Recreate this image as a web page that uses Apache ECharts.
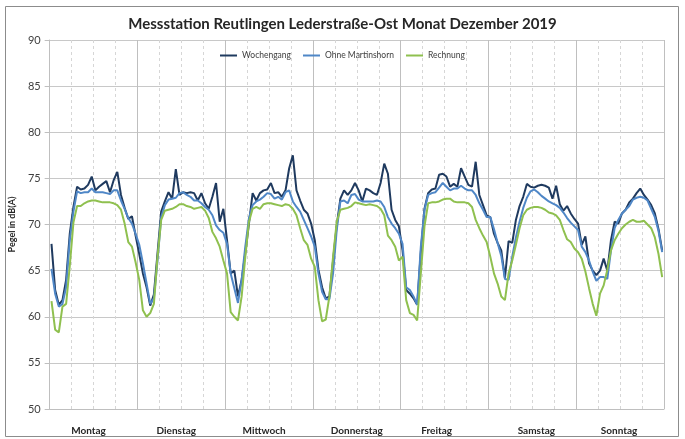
<!DOCTYPE html>
<html>
<head>
<meta charset="utf-8">
<script src="https://cdn.jsdelivr.net/npm/echarts@6/dist/echarts.min.js"></script>
<style>
  html, body { margin: 0; padding: 0; background: #ffffff; }
  #chart { width: 685px; height: 439px; }
</style>
</head>
<body>
<div id="chart"></div>
<script>
// Wochentage (je 24 Stundenwerte)
const days = ['Montag', 'Dienstag', 'Mittwoch', 'Donnerstag', 'Freitag', 'Samstag', 'Sonntag'];

// Stündliche Mittelungspegel in dB(A), Montag 0 Uhr bis Sonntag 23 Uhr
const wochengang = [
  67.9, 62.9, 61.3, 61.8, 64.0, 69.0, 71.9, 74.1, 73.8, 73.9, 74.3, 75.2, 73.7, 74.1, 74.4, 74.7, 73.5, 74.8, 75.7, 73.2, 71.8, 70.6, 70.9, 68.8,
  66.8, 64.7, 63.2, 61.2, 62.4, 66.9, 71.4, 72.5, 73.5, 72.8, 76.0, 73.2, 73.5, 73.4, 73.5, 73.4, 72.6, 73.4, 72.3, 71.7, 73.0, 74.5, 70.3, 71.7,
  68.3, 64.7, 65.0, 62.2, 64.0, 66.9, 70.1, 73.4, 72.6, 73.4, 73.7, 73.8, 74.5, 73.4, 73.5, 73.0, 73.7, 76.1, 77.5, 73.7, 72.6, 71.6, 71.2, 70.1,
  68.3, 65.1, 63.2, 62.0, 62.2, 66.1, 69.9, 72.8, 73.7, 73.2, 73.7, 74.5, 73.7, 72.5, 73.9, 73.7, 73.4, 73.2, 74.5, 76.6, 75.5, 71.6, 70.5, 69.8,
  67.2, 62.9, 62.5, 62.0, 61.3, 67.0, 71.7, 73.4, 73.8, 73.9, 75.4, 75.5, 75.2, 74.1, 74.4, 74.1, 76.1, 75.2, 74.3, 74.1, 76.8, 73.2, 72.1, 71.0,
  70.8, 69.0, 68.0, 67.2, 64.2, 68.2, 68.0, 70.5, 72.0, 73.0, 74.4, 74.1, 74.0, 74.2, 74.3, 74.2, 74.0, 72.8, 74.2, 72.2, 71.5, 72.0, 71.2, 70.6,
  70.1, 67.8, 68.7, 65.8, 65.0, 64.5, 65.0, 66.3, 65.0, 68.3, 70.3, 70.1, 71.2, 71.6, 72.4, 72.8, 73.4, 73.9, 73.2, 72.7, 72.1, 71.2, 69.5, 67.2
];

const ohneMartinshorn = [
  65.2, 62.5, 61.1, 61.4, 63.2, 68.3, 71.4, 73.6, 73.4, 73.5, 73.5, 73.9, 73.5, 73.5, 73.5, 73.4, 73.3, 73.7, 73.7, 72.6, 71.7, 70.7, 70.1, 69.0,
  67.8, 65.8, 63.6, 61.4, 62.0, 66.1, 70.8, 72.1, 72.7, 72.8, 72.9, 73.4, 73.5, 73.2, 73.0, 72.6, 72.6, 72.3, 71.9, 71.6, 71.0, 69.9, 69.4, 69.1,
  67.9, 64.7, 63.1, 61.5, 64.0, 67.6, 70.7, 72.1, 72.5, 72.7, 73.0, 73.4, 73.3, 72.8, 73.0, 72.7, 73.5, 73.7, 72.5, 71.9, 71.4, 70.5, 69.6, 68.7,
  67.6, 64.7, 62.7, 61.9, 61.9, 64.7, 69.4, 72.5, 72.6, 72.3, 73.2, 73.3, 72.7, 72.5, 72.5, 72.5, 72.5, 72.6, 72.5, 71.9, 70.8, 70.1, 69.6, 69.0,
  67.9, 63.2, 62.9, 62.2, 61.3, 67.6, 71.6, 73.2, 73.4, 73.5, 74.0, 74.5, 74.1, 73.7, 73.9, 73.9, 74.2, 73.9, 73.7, 73.7, 73.2, 72.3, 71.6, 70.8,
  70.8, 69.5, 68.0, 66.6, 64.1, 64.0, 66.5, 68.6, 70.3, 71.8, 72.9, 73.6, 73.8, 73.5, 73.1, 72.8, 72.5, 72.3, 72.1, 71.8, 71.3, 70.7, 70.2, 69.8,
  69.4, 67.6, 67.0, 66.1, 64.9, 63.9, 64.3, 64.3, 64.1, 67.2, 69.6, 70.5, 71.2, 71.6, 72.0, 72.7, 72.9, 73.0, 72.9, 72.6, 71.7, 70.8, 69.3, 67.0
];

const rechnung = [
  61.7, 58.6, 58.3, 61.1, 61.4, 65.5, 70.2, 72.0, 72.0, 72.3, 72.5, 72.6, 72.6, 72.5, 72.4, 72.4, 72.4, 72.3, 72.1, 71.6, 70.1, 68.1, 67.6, 65.9,
  64.0, 60.7, 60.0, 60.4, 61.4, 66.5, 70.5, 71.5, 71.6, 71.7, 71.9, 72.2, 72.2, 72.0, 71.9, 71.7, 71.8, 71.9, 71.5, 70.7, 69.2, 68.5, 67.6, 66.1,
  64.7, 60.5, 60.0, 59.6, 62.2, 66.5, 70.3, 71.7, 71.9, 71.7, 72.2, 72.3, 72.3, 72.2, 72.1, 72.0, 72.2, 72.1, 71.7, 71.0, 69.6, 68.3, 67.8, 66.3,
  65.4, 61.8, 59.5, 59.7, 62.2, 66.5, 70.3, 71.6, 71.7, 71.8, 72.0, 72.4, 72.3, 72.2, 72.1, 72.2, 72.1, 72.0, 71.7, 71.0, 68.8, 68.3, 67.6, 66.1,
  66.5, 61.8, 60.4, 60.2, 59.6, 64.7, 69.8, 72.3, 72.4, 72.4, 72.5, 72.7, 72.8, 72.8, 72.5, 72.4, 72.4, 72.4, 72.3, 71.9, 70.5, 69.6, 68.8, 68.1,
  66.5, 64.7, 63.6, 62.2, 61.8, 64.7, 66.1, 67.8, 69.6, 71.0, 71.6, 71.8, 71.9, 71.9, 71.8, 71.6, 71.3, 71.2, 71.0, 70.5, 69.4, 68.4, 68.1, 67.4,
  67.0, 66.3, 64.9, 63.1, 61.4, 60.1, 62.5, 63.4, 65.1, 67.2, 68.3, 69.0, 69.6, 70.0, 70.3, 70.5, 70.3, 70.3, 70.4, 70.0, 69.6, 68.6, 66.8, 64.3
];

// Achsenbeschriftung der y-Achse
const yTicks = { min: 50, max: 90, step: 5 };

// Stundenkategorien für die Datenreihen
const hours = [];
days.forEach(d => { for (let h = 0; h < 24; h++) hours.push(d + ' ' + h + ':00'); });

// Horizontale Verschiebung der Tagesbeschriftungen (px, positiv = nach rechts)
const dayLabelShift = [-5, -5, -5, 0, -8, 4, -1];

const font = 'Lato';
const rich = {};
dayLabelShift.forEach((s, i) => {
  rich['d' + i] = {
    fontFamily: font, fontWeight: 'bold', fontSize: 10, color: '#262626',
    padding: s < 0 ? [0, -2 * s, 0, 0] : [0, 0, 0, 2 * s]
  };
});

const chart = echarts.init(document.getElementById('chart'), null, { renderer: 'canvas' });

chart.setOption({
  animation: false,
  backgroundColor: '#ffffff',
  title: {
    text: 'Messstation Reutlingen Lederstraße-Ost Monat Dezember 2019',
    left: 'center',
    top: 12,
    textStyle: { fontFamily: font, fontWeight: 'bold', fontSize: 15, color: '#262626' }
  },
  legend: {
    top: 46,
    left: 'center',
    icon: 'rect',
    itemWidth: 17,
    itemHeight: 2,
    itemGap: 12,
    textStyle: { fontFamily: font, fontSize: 8.5, color: '#404040' },
    data: ['Wochengang', 'Ohne Martinshorn', 'Rechnung']
  },
  grid: { left: 47, right: 21, top: 40, bottom: 30, containLabel: false },
  xAxis: [
    {
      type: 'category',
      data: hours,
      boundaryGap: true,
      axisLine: { show: false },
      axisTick: { show: false },
      axisLabel: { show: false },
      splitLine: {
        show: true,
        interval: (i) => i % 6 === 0 && i % 24 !== 0,
        lineStyle: { color: '#d6d6d6', type: [3, 3], width: 1 }
      }
    },
    {
      type: 'category',
      data: days,
      position: 'bottom',
      boundaryGap: true,
      axisLine: { show: true, lineStyle: { color: '#bfbfbf' } },
      axisTick: { show: false, interval: 0 },
      axisLabel: {
        interval: 0,
        margin: 17,
        formatter: (v, i) => '{d' + i + '|' + v + '}',
        rich: rich
      },
      splitLine: { show: true, interval: 0, lineStyle: { color: '#bfbfbf', width: 1 } }
    }
  ],
  yAxis: {
    type: 'value',
    min: yTicks.min,
    max: yTicks.max,
    interval: yTicks.step,
    name: 'Pegel in dB(A)',
    nameLocation: 'middle',
    nameGap: 29,
    nameTextStyle: { fontFamily: font, fontWeight: 'bold', fontSize: 9, color: '#262626' },
    axisLine: { show: true, lineStyle: { color: '#bfbfbf' } },
    axisTick: { show: true, length: 5, lineStyle: { color: '#bfbfbf' } },
    axisLabel: { fontFamily: font, fontSize: 11, color: '#404040', margin: 9 },
    splitLine: { show: true, lineStyle: { color: '#c8c8c8', width: 1 } }
  },
  series: [
    {
      name: 'Wochengang', type: 'line', xAxisIndex: 0, data: wochengang,
      symbol: 'none', lineStyle: { color: '#1f3a5f', width: 2 }, itemStyle: { color: '#1f3a5f' }
    },
    {
      name: 'Ohne Martinshorn', type: 'line', xAxisIndex: 0, data: ohneMartinshorn,
      symbol: 'none', lineStyle: { color: '#4f87c7', width: 2 }, itemStyle: { color: '#4f87c7' }
    },
    {
      name: 'Rechnung', type: 'line', xAxisIndex: 0, data: rechnung,
      symbol: 'none', lineStyle: { color: '#8fc04f', width: 2 }, itemStyle: { color: '#8fc04f' }
    }
  ],
  graphic: [
    {
      type: 'rect',
      shape: { x: 5.5, y: 6.5, width: 673, height: 430 },
      style: { fill: 'none', stroke: '#8c8c8c', lineWidth: 1 },
      silent: true
    }
  ]
});
</script>
</body>
</html>
